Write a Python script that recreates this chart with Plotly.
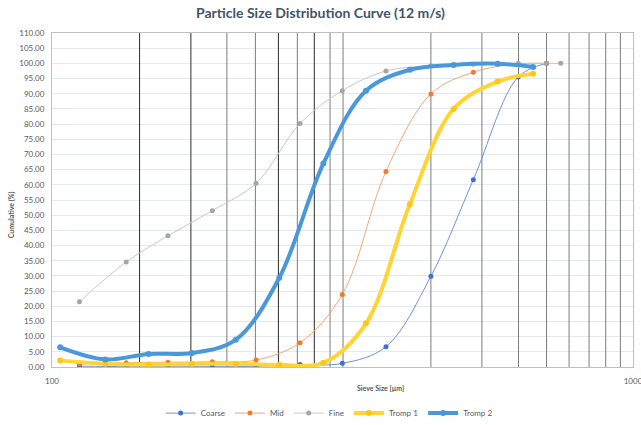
import plotly.graph_objects as go

# ---- data ----
sieve_x = [111.5, 134.2, 158.3, 188.8, 224.5, 267.3, 316.0, 375.7, 448.9, 531.1, 634.4, 709.9]
fine_x = [111.5, 134.2, 158.3, 188.8, 224.5, 267.3, 316.0, 375.7, 448.9, 531.1, 634.4, 709.9, 751.0]
coarse = [0.3, 0.1, 0.1, 0.1, 0.2, 0.8, 1.2, 6.7, 29.9, 61.7, 95.5, 100.0]
mid = [1.0, 1.4, 1.6, 1.7, 2.3, 8.0, 23.9, 64.4, 89.9, 97.1, 99.8, 100.0]
fine = [21.5, 34.6, 43.2, 51.5, 60.5, 80.2, 91.0, 97.5, 99.2, 99.7, 100.0, 100.0, 100.0]

tromp_x = [103.3, 123.5, 146.6, 174.1, 207.2, 246.2, 293.1, 347.1, 413.1, 491.2, 584.7, 673.0]
tromp1 = [2.1, 1.1, 0.8, 1.0, 1.1, 0.7, 1.4, 14.4, 53.7, 85.0, 94.0, 96.6]
tromp2 = [6.5, 2.5, 4.3, 4.6, 9.0, 29.4, 67.0, 91.0, 97.9, 99.5, 99.9, 98.8]

dark_lines = [141.5, 173.4, 245.3, 282.8]
gray_lines = [200.0, 223.9, 264.4, 301.0, 316.9, 448.9, 549.5, 635.3, 709.9, 776.2, 840.2, 897.5, 951.3]

y_ticks = [i * 5 for i in range(23)]
x_ticks = [100, 1000]
x_ticklabels = ["100", "1000"]

FONT = "Lato"
fig = go.Figure()


def vlines(vals, color):
    xs, ys = [], []
    for v in vals:
        xs += [v, v, None]
        ys += [0, 110, None]
    fig.add_trace(go.Scatter(x=xs, y=ys, mode="lines", line=dict(color=color, width=1),
                             showlegend=False, hoverinfo="skip"))


vlines(gray_lines, "#7c7c7c")
vlines(dark_lines, "#2b2b2b")

fig.add_trace(go.Scatter(x=sieve_x, y=coarse, name="Coarse", mode="lines+markers",
                         line=dict(color="#6f93d8", width=1, shape="spline", smoothing=1),
                         marker=dict(color="#3f6fcc", size=5)))
fig.add_trace(go.Scatter(x=sieve_x, y=mid, name="Mid", mode="lines+markers",
                         line=dict(color="#f4a775", width=1, shape="spline", smoothing=1),
                         marker=dict(color="#f27a28", size=5)))
fig.add_trace(go.Scatter(x=fine_x, y=fine, name="Fine", mode="lines+markers",
                         line=dict(color="#c8c8c8", width=1, shape="spline", smoothing=1),
                         marker=dict(color="#a5a5a5", size=5)))
fig.add_trace(go.Scatter(x=tromp_x, y=tromp1, name="Tromp 1", mode="lines+markers",
                         line=dict(color="#ffd433", width=4, shape="spline", smoothing=1),
                         marker=dict(color="#ffc61a", size=6)))
fig.add_trace(go.Scatter(x=tromp_x, y=tromp2, name="Tromp 2", mode="lines+markers",
                         line=dict(color="#4a98dc", width=4, shape="spline", smoothing=1),
                         marker=dict(color="#4a98dc", size=6)))

fig.update_layout(
    width=641, height=425,
    margin=dict(l=52, r=8, t=33, b=58, autoexpand=False),
    paper_bgcolor="white", plot_bgcolor="white",
    font=dict(family=FONT, size=8, color="#595959"),
    title=dict(text="<b>Particle Size Distribution Curve (12 m/s)</b>", x=0.5, xanchor="center",
               y=0.97, yanchor="middle", font=dict(family=FONT, size=14, color="#44546a")),
    showlegend=True,
    legend=dict(orientation="h", x=0.477, xanchor="center", y=-0.138, yanchor="middle",
                font=dict(size=8, color="#595959"), itemwidth=30, tracegroupgap=0),
    xaxis=dict(type="log", range=[2, 3], tickvals=x_ticks, ticktext=x_ticklabels,
               showgrid=False, showline=True, linecolor="#bfbfbf", linewidth=1, mirror=True,
               ticks="", zeroline=False, tickfont=dict(size=8), ticklabeloverflow="allow",
               ticklabelstandoff=6),
    yaxis=dict(range=[0, 110], tickvals=y_ticks, tickformat=".2f", showgrid=True,
               gridcolor="#e4e8ef", gridwidth=1, showline=True, linecolor="#bfbfbf",
               linewidth=1, mirror=True, ticks="", zeroline=False, tickfont=dict(size=8),
               ticklabelstandoff=5),
    annotations=[
        dict(text="<b>Sieve Size [µm]</b>", xref="paper", yref="paper", x=0.566, y=-0.063,
             xanchor="center", yanchor="middle", showarrow=False, font=dict(size=7, color="#595959")),
        dict(text="<b>Cumulative (%)</b>", xref="paper", yref="paper", x=-0.07, y=0.455,
             xanchor="center", yanchor="middle", textangle=-90, showarrow=False,
             font=dict(size=7, color="#595959")),
    ],
)

fig.write_html("out.html")
